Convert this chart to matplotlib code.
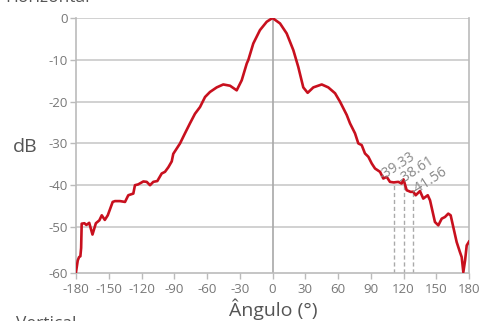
import matplotlib
matplotlib.use("Agg")
import matplotlib.pyplot as plt

angles = [-180.0, -178.4, -177.2, -176.0, -175.3, -174.8, -172.3, -170.5, -167.9, -164.9,
          -161.8, -158.6, -156.4, -153.6, -150.9, -146.4, -144.3, -139.7, -135.1, -132.1,
          -127.5, -126.0, -123.0, -118.3, -115.2, -112.2, -109.2, -105.5, -101.5, -98.5,
          -95.4, -92.3, -90.9, -84.7, -80.2, -75.6, -71.0, -66.4, -61.8, -57.3,
          -51.1, -45.1, -38.9, -32.8, -28.2, -23.6, -22.1, -17.6, -11.5, -5.3,
          0.0, 6.9, 13.0, 19.1, 23.6, 28.2, 32.2, 37.4, 45.1, 51.1,
          57.3, 61.8, 68.0, 71.0, 75.6, 78.6, 81.7, 84.7, 87.8, 90.9,
          93.9, 98.5, 101.5, 104.6, 107.6, 111.0, 115.2, 118.3, 120.0, 122.9,
          126.6, 129.0, 131.2, 135.1, 138.1, 142.2, 144.3, 148.8, 151.9, 155.0,
          158.0, 161.0, 163.2, 165.6, 168.7, 171.7, 173.3, 174.8, 176.4, 177.9, 180.0]
db = [-60.8, -58.0, -57.2, -57.0, -55.0, -49.2, -49.1, -49.5, -49.0, -51.8,
      -49.1, -48.4, -47.2, -48.3, -47.2, -44.0, -43.8, -43.8, -44.0, -42.4,
      -42.0, -40.0, -39.8, -39.1, -39.2, -40.0, -39.2, -39.0, -37.2, -36.8,
      -35.7, -34.3, -32.5, -30.0, -27.6, -25.2, -22.9, -21.3, -18.9, -17.7,
      -16.6, -15.9, -16.2, -17.3, -14.9, -10.9, -10.0, -6.1, -2.9, -0.9,
      0.0, -1.3, -3.7, -7.7, -11.7, -16.6, -17.9, -16.6, -15.9, -16.6,
      -18.0, -20.0, -23.2, -25.2, -27.6, -30.0, -30.4, -32.4, -33.2, -34.8,
      -36.0, -36.8, -38.4, -38.0, -39.2, -39.33, -39.2, -39.6, -38.61, -41.2,
      -41.6, -41.56, -42.4, -41.4, -43.2, -42.4, -43.6, -48.8, -49.6, -48.0,
      -47.6, -46.8, -47.2, -50.0, -53.6, -56.0, -57.2, -60.8, -58.0, -54.4, -53.5]

mark_angles = [111.0, 120.0, 129.0]
mark_values = [-39.33, -38.61, -41.56]
mark_labels = ["-39.33", "-38.61", "-41.56"]

x_ticks = list(range(-180, 181, 30))
y_ticks = [0, -10, -20, -30, -40, -50, -61]
y_labels = ["0", "-10", "-20", "-30", "-40", "-50", "-60"]

# label offsets in pixels (styling only)
label_offsets_px = [(-11, 2), (-2, -5), (1, -3)]

plt.rcParams['font.family'] = ['Open Sans', 'DejaVu Sans']

fig = plt.figure(figsize=(4.8, 3.21), dpi=100)
ax = fig.add_axes([76/480, 1-273/321, (469-76)/480, (273-18)/321])

ax.set_xlim(-180, 180)
ax.set_ylim(-61, 0)

for y in [0, -10, -20, -30, -40, -50]:
    ax.axhline(y, color='#c9c9c9', lw=1.2, zorder=1)
ax.axvline(0, color='#a8a8a8', lw=1.2, zorder=1)

ax.plot(angles, db, color='#c8101e', lw=1.9, zorder=3, solid_joinstyle='round')

for a, v, lab, (ox, oy) in zip(mark_angles, mark_values, mark_labels, label_offsets_px):
    ax.plot([a, a], [-61, v], color='#aaaaaa', lw=1.0, ls=(0, (3, 2)), zorder=2)
    ax.annotate(lab, (a, v), xytext=(ox * 0.72, oy * 0.72), textcoords='offset points',
                rotation=33, rotation_mode='anchor', ha='left', va='baseline',
                fontsize=10, color='#888888', zorder=4)

for side in ['left', 'right', 'bottom']:
    ax.spines[side].set_color('#bbbbbb')
    ax.spines[side].set_linewidth(1.2)
ax.spines['top'].set_visible(False)

ax.set_xticks(x_ticks)
ax.set_xticklabels([str(t) for t in x_ticks])
ax.set_yticks(y_ticks)
ax.set_yticklabels(y_labels)
ax.tick_params(axis='both', colors='#bbbbbb', labelcolor='#777777', labelsize=9.5,
               length=4, width=1)
ax.tick_params(axis='x', pad=3)
ax.tick_params(axis='y', pad=2)

fig.text(25/480, 1-147/321, "dB", fontsize=14, color='#555555', ha='center', va='center')
fig.text(273/480, 1-309/321, "Ângulo (°)", fontsize=14, color='#555555', ha='center', va='center')

fig.text(5/480, 1-1.5/321, "Horizontal", fontsize=12.5, color='#555555', ha='left', va='baseline')
fig.text(16/480, 1-328/321, "Vertical", fontsize=12.5, color='#555555', ha='left', va='baseline')

fig.savefig("out.png", dpi=100)
